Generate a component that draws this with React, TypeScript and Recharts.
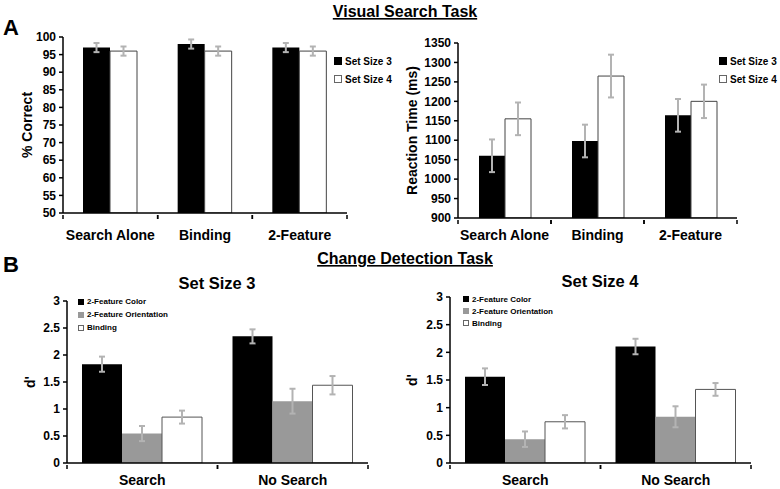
import { BarChart, Bar, XAxis, YAxis, ErrorBar, Legend } from "recharts";

const FONT = "'Liberation Sans', Arial, Helvetica, sans-serif";

// Panel A: visual search task
const searchConditions = ["Search Alone", "Binding", "2-Feature"];
const accuracySetSize3 = [97, 98, 97];
const accuracySetSize3Err = [1.3, 1.3, 1.3];
const accuracySetSize4 = [96, 96, 96];
const accuracySetSize4Err = [1.3, 1.3, 1.3];
const accuracyTicks = [50, 55, 60, 65, 70, 75, 80, 85, 90, 95, 100];

const rtSetSize3 = [1060, 1098, 1164];
const rtSetSize3Err = [42, 42, 42];
const rtSetSize4 = [1155, 1265, 1200];
const rtSetSize4Err = [42, 55, 43];
const rtTicks = [900, 950, 1000, 1050, 1100, 1150, 1200, 1250, 1300, 1350];

// Panel B: change detection task (d')
const detectionConditions = ["Search", "No Search"];
const ss3Color = [1.83, 2.345];
const ss3ColorErr = [0.14, 0.13];
const ss3Orientation = [0.545, 1.145];
const ss3OrientationErr = [0.14, 0.23];
const ss3Binding = [0.85, 1.44];
const ss3BindingErr = [0.12, 0.17];

const ss4Color = [1.56, 2.105];
const ss4ColorErr = [0.15, 0.14];
const ss4Orientation = [0.43, 0.835];
const ss4OrientationErr = [0.14, 0.19];
const ss4Binding = [0.745, 1.33];
const ss4BindingErr = [0.12, 0.115];
const dPrimeTicks = [0, 0.5, 1, 1.5, 2, 2.5, 3];

const accuracyRows = searchConditions.map((name, i) => ({
  name,
  s3: accuracySetSize3[i],
  s3Err: accuracySetSize3Err[i],
  s4: accuracySetSize4[i],
  s4Err: accuracySetSize4Err[i],
}));

const rtRows = searchConditions.map((name, i) => ({
  name,
  s3: rtSetSize3[i],
  s3Err: rtSetSize3Err[i],
  s4: rtSetSize4[i],
  s4Err: rtSetSize4Err[i],
}));

const ss3Rows = detectionConditions.map((name, i) => ({
  name,
  color: ss3Color[i],
  colorErr: ss3ColorErr[i],
  orient: ss3Orientation[i],
  orientErr: ss3OrientationErr[i],
  binding: ss3Binding[i],
  bindingErr: ss3BindingErr[i],
}));

const ss4Rows = detectionConditions.map((name, i) => ({
  name,
  color: ss4Color[i],
  colorErr: ss4ColorErr[i],
  orient: ss4Orientation[i],
  orientErr: ss4OrientationErr[i],
  binding: ss4Binding[i],
  bindingErr: ss4BindingErr[i],
}));

type Series = { key: string; name: string; fill: string; stroke?: string };

const setSizeSeries: Series[] = [
  { key: "s3", name: "Set Size 3", fill: "#000" },
  { key: "s4", name: "Set Size 4", fill: "#fff", stroke: "#444" },
];

const featureSeries: Series[] = [
  { key: "color", name: "2-Feature Color", fill: "#000" },
  { key: "orient", name: "2-Feature Orientation", fill: "#999" },
  { key: "binding", name: "Binding", fill: "#fff", stroke: "#555" },
];

type LegendCfg = { left: number; top: number; fontSize: number; rowHeight: number; box: number };

type PanelProps = {
  left: number;
  top: number;
  width: number;
  height: number;
  margin: { top: number; right: number; left: number; bottom: number };
  yWidth: number;
  xHeight: number;
  data: any[];
  series: Series[];
  domain: [number, number];
  ticks: number[];
  yLabel: string;
  yLabelX: number;
  barSize: number;
  catFont: number;
  catDy: number;
  legend: LegendCfg;
};

const catTick = (half: number, fontSize: number, dy: number) => (props: any) => {
  const { x, y, payload } = props;
  return (
    <g>
      <line x1={x - half} x2={x - half} y1={y} y2={y + 4} stroke="#000" strokeWidth={1.5} />
      <line x1={x + half} x2={x + half} y1={y} y2={y + 4} stroke="#000" strokeWidth={1.5} />
      <text
        x={x}
        y={y + dy}
        textAnchor="middle"
        fontSize={fontSize}
        fontWeight="bold"
        fontFamily={FONT}
        fill="#000"
      >
        {payload.value}
      </text>
    </g>
  );
};

const legendContent = (cfg: LegendCfg) => (props: any) => (
  <div
    style={{
      fontFamily: FONT,
      fontWeight: "bold",
      fontSize: cfg.fontSize,
      color: "#000",
      whiteSpace: "nowrap",
    }}
  >
    {(props.payload || []).map((p: any) => (
      <div key={p.value} style={{ display: "flex", alignItems: "center", height: cfg.rowHeight }}>
        <span
          style={{
            display: "inline-block",
            width: cfg.box,
            height: cfg.box,
            background: p.color,
            boxSizing: "border-box",
            border: p.color === "#fff" ? "1px solid #666" : "none",
            marginRight: 3,
          }}
        />
        {p.value}
      </div>
    ))}
  </div>
);

function Panel(p: PanelProps) {
  const plotWidth = p.width - p.margin.left - p.margin.right - p.yWidth;
  const half = plotWidth / p.data.length / 2;
  return (
    <div style={{ position: "absolute", left: p.left, top: p.top }}>
      <BarChart
        width={p.width}
        height={p.height}
        data={p.data}
        margin={p.margin}
        barGap={0}
        barSize={p.barSize}
      >
        <XAxis
          dataKey="name"
          height={p.xHeight}
          interval={0}
          tickSize={0}
          tickLine={false}
          axisLine={{ stroke: "#000", strokeWidth: 1.5 }}
          tick={catTick(half, p.catFont, p.catDy)}
        />
        <YAxis
          width={p.yWidth}
          domain={p.domain}
          ticks={p.ticks}
          interval={0}
          allowDataOverflow
          tickSize={4}
          tickMargin={3}
          axisLine={{ stroke: "#000", strokeWidth: 1.5 }}
          tickLine={{ stroke: "#000", strokeWidth: 1.5 }}
          tick={{ fill: "#000", fontSize: 12, fontWeight: "bold", fontFamily: FONT }}
          label={{
            content: ({ viewBox }: any) => {
              const cy = viewBox.y + viewBox.height / 2;
              return (
                <text
                  x={p.yLabelX}
                  y={cy}
                  transform={`rotate(-90 ${p.yLabelX} ${cy})`}
                  textAnchor="middle"
                  dominantBaseline="central"
                  fontSize={14}
                  fontWeight="bold"
                  fontFamily={FONT}
                  fill="#000"
                >
                  {p.yLabel}
                </text>
              );
            },
          }}
        />
        <Legend
          layout="vertical"
          align="center"
          verticalAlign="middle"
          wrapperStyle={{ left: p.legend.left, top: p.legend.top, width: "auto" }}
          content={legendContent(p.legend)}
        />
        {p.series.map((s) => (
          <Bar
            key={s.key}
            dataKey={s.key}
            name={s.name}
            fill={s.fill}
            stroke={s.stroke}
            strokeWidth={s.stroke ? 1 : 0}
            isAnimationActive={false}
          >
            <ErrorBar
              dataKey={`${s.key}Err`}
              width={3}
              stroke="#b3b3b3"
              strokeWidth={2}
              isAnimationActive={false}
            />
          </Bar>
        ))}
      </BarChart>
    </div>
  );
}

export default function App() {
  return (
    <div
      style={{
        position: "absolute",
        left: 0,
        top: 0,
        width: 780,
        height: 489,
        background: "#fff",
        fontFamily: FONT,
        overflow: "hidden",
      }}
    >
      <Panel
        left={0}
        top={0}
        width={360}
        height={245}
        margin={{ top: 37, right: 13, left: 0, bottom: 0 }}
        yWidth={63}
        xHeight={32}
        data={accuracyRows}
        series={setSizeSeries}
        domain={[50, 100]}
        ticks={accuracyTicks}
        yLabel="% Correct"
        yLabelX={27}
        barSize={27}
        catFont={14}
        catDy={25}
        legend={{ left: 334, top: 52, fontSize: 10, rowHeight: 18, box: 8 }}
      />
      <Panel
        left={390}
        top={0}
        width={390}
        height={245}
        margin={{ top: 43, right: 43, left: 0, bottom: 0 }}
        yWidth={68}
        xHeight={27}
        data={rtRows}
        series={setSizeSeries}
        domain={[900, 1350]}
        ticks={rtTicks}
        yLabel="Reaction Time (ms)"
        yLabelX={22}
        barSize={26}
        catFont={14}
        catDy={20}
        legend={{ left: 329, top: 52, fontSize: 10, rowHeight: 18, box: 8 }}
      />
      <Panel
        left={0}
        top={265}
        width={380}
        height={224}
        margin={{ top: 36, right: 12, left: 0, bottom: 0 }}
        yWidth={67}
        xHeight={26}
        data={ss3Rows}
        series={featureSeries}
        domain={[0, 3]}
        ticks={dPrimeTicks}
        yLabel="d'"
        yLabelX={30}
        barSize={40}
        catFont={14}
        catDy={20}
        legend={{ left: 78, top: 30, fontSize: 8, rowHeight: 13, box: 6 }}
      />
      <Panel
        left={390}
        top={265}
        width={390}
        height={224}
        margin={{ top: 32, right: 29, left: 0, bottom: 0 }}
        yWidth={60}
        xHeight={26}
        data={ss4Rows}
        series={featureSeries}
        domain={[0, 3]}
        ticks={dPrimeTicks}
        yLabel="d'"
        yLabelX={22}
        barSize={40}
        catFont={14}
        catDy={20}
        legend={{ left: 73, top: 28, fontSize: 8, rowHeight: 12, box: 6 }}
      />
      <svg
        width={780}
        height={489}
        style={{ position: "absolute", left: 0, top: 0, pointerEvents: "none" }}
      >
        <g fontFamily={FONT} fontWeight="bold" fill="#000">
          <text x={405} y={17} fontSize={16} textAnchor="middle" textDecoration="underline">
            Visual Search Task
          </text>
          <text x={405} y={264} fontSize={16} textAnchor="middle" textDecoration="underline">
            Change Detection Task
          </text>
          <text x={3} y={35} fontSize={22}>
            A
          </text>
          <text x={3} y={272} fontSize={22}>
            B
          </text>
          <text x={217} y={289} fontSize={16.5} textAnchor="middle">
            Set Size 3
          </text>
          <text x={600} y={287} fontSize={16.5} textAnchor="middle">
            Set Size 4
          </text>
        </g>
      </svg>
    </div>
  );
}
